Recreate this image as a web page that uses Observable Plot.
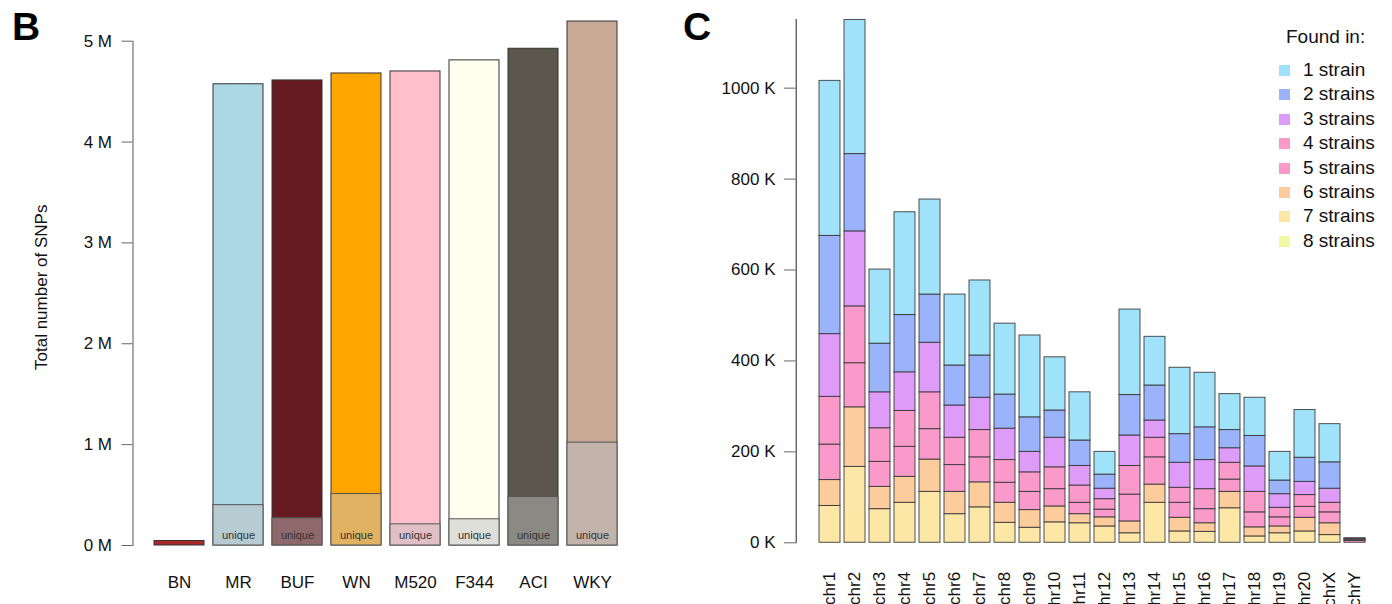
<!DOCTYPE html>
<html>
<head>
<meta charset="utf-8">
<script src="https://cdn.jsdelivr.net/npm/d3@7"></script>
<script src="https://cdn.jsdelivr.net/npm/@observablehq/plot@0.6"></script>
<style>
  html, body { margin: 0; padding: 0; background: #fff; }
  #wrap { position: relative; width: 1392px; height: 604px; overflow: hidden; font-family: "Liberation Sans", Arial, sans-serif; }
  .panel { position: absolute; top: 0; }
  .tag { position: absolute; font-family: "Liberation Sans", Arial, sans-serif; font-weight: bold; font-size: 39px; line-height: 39px; color: #000; }
  .legend { position: absolute; font-family: "Liberation Sans", Arial, sans-serif; font-size: 19px; color: #111; }
  .legend .ttl { position: absolute; left: 1286px; top: 24px; line-height: 25px; white-space: nowrap; }
  .legend .row { position: absolute; left: 1279px; height: 24px; line-height: 24px; white-space: nowrap; }
  .legend .sw { position: absolute; left: 0; top: 7px; width: 11px; height: 11px; }
  .legend .lb { position: absolute; left: 24px; top: 0; }
</style>
</head>
<body>
<div id="wrap">
  <div class="tag" style="left:12px;top:7px;">B</div>
  <div class="tag" style="left:683px;top:7px;">C</div>
  <div class="panel" id="left" style="left:0px;"></div>
  <div class="panel" id="right" style="left:680px;"></div>
  <div class="legend" id="legend"></div>
</div>
<script>
// ---------- Panel B data (millions of SNPs) ----------
const strains = ["BN", "MR", "BUF", "WN", "M520", "F344", "ACI", "WKY"];
const totalSNPs = [0.045, 4.573, 4.611, 4.68, 4.70, 4.81, 4.925, 5.195];
const uniqueSNPs = [0, 0.40, 0.27, 0.51, 0.21, 0.26, 0.48, 1.02];
const strainColors = ["#A8282A", "#ADD8E6", "#661A21", "#FFA500", "#FFC0CB", "#FFFFF0", "#5C574C", "#C8AA96"];
const uniqueColors = ["#A8282A", "#B6CBD2", "#8E686A", "#E0B262", "#E0C0C6", "#DFDFD9", "#8B8983", "#C2B4AA"];
const yTicksB = [0, 1, 2, 3, 4, 5];

// ---------- Panel C data (thousands of SNPs) ----------
const chroms = ["chr1","chr2","chr3","chr4","chr5","chr6","chr7","chr8","chr9","chr10","chr11","chr12","chr13","chr14","chr15","chr16","chr17","chr18","chr19","chr20","chrX","chrY"];
const foundIn = ["1 strain","2 strains","3 strains","4 strains","5 strains","6 strains","7 strains","8 strains"];
const foundColors = ["#A0E2FA","#9BB3FA","#DE9BF8","#F99ACA","#F99ACA","#FDCC9C","#FDE7A6","#F3F8A2"];
const in1 = [341,295,163,226,209,156,165,156,180,117,106,50,188,107,146,120,79,84,63,105,84,1];
const in2 = [216,170,107,126,106,88,93,75,76,60,56,31,89,77,63,72,40,67,30,53,58,1];
const in3 = [138,165,79,85,109,71,71,69,45,65,43,23,67,38,55,64,32,56,30,29,31,1];
const in4 = [105,125,74,79,81,60,60,50,43,48,38,23,63,43,33,44,37,45,21,26,21,3];
const in5 = [78,97,55,66,67,59,55,44,40,38,25,17,59,60,33,31,27,33,20,24,24,4];
const in6 = [57,131,49,57,71,49,55,44,39,35,20,20,26,40,30,19,36,20,15,30,26,0];
const in7 = [81,167,74,88,112,63,78,44,33,45,43,36,21,88,25,24,76,14,21,25,17,0];
const in8 = [0,0,0,0,0,0,0,0,0,0,0,0,0,0,0,0,0,0,0,0,0,0];
const yTicksC = [0, 200, 400, 600, 800, 1000];

const font = '"Liberation Sans", Arial, sans-serif';

// ---------- Panel B ----------
const strainRows = strains.map((s, i) => ({
  strain: s, total: totalSNPs[i], unique: uniqueSNPs[i],
  color: strainColors[i], ucolor: uniqueColors[i]
}));
const uniqueRows = strainRows.filter(d => d.unique > 0);

const left = Plot.plot({
  width: 680, height: 604,
  marginLeft: 132.5, marginRight: 42.5, marginTop: 40.7, marginBottom: 59,
  style: {fontFamily: font, fontSize: "17px", background: "transparent", overflow: "visible", color: "#111"},
  x: {domain: strains, paddingInner: 0.155, paddingOuter: 0.30, axis: null},
  y: {domain: [0, 5], axis: null},
  color: {type: "identity"},
  marks: [
    Plot.frame({anchor: "left", stroke: "#555"}),
    Plot.axisY({ticks: yTicksB, tickFormat: d => `${d} M`, tickSize: 11, tickPadding: 10, stroke: "#666", fill: "#111", fontSize: 17, label: null}),
    Plot.axisX({tickSize: 0, tickPadding: 30, fontSize: 17, fill: "#111", label: null}),
    Plot.barY(strainRows, {x: "strain", y: "total", fill: "color", stroke: "#333", strokeWidth: 1}),
    Plot.barY(uniqueRows, {x: "strain", y: "unique", fill: "ucolor", stroke: "#555", strokeWidth: 1}),
    Plot.text(uniqueRows, {x: "strain", y: 0, text: () => "unique", dy: -10, fontSize: 11, fill: "#333"}),
    Plot.text(["Total number of SNPs"], {frameAnchor: "left", y: 2.56, text: d => d, rotate: -90, textAnchor: "middle", dx: -91, fontSize: 17, fill: "#111"})
  ]
});
document.getElementById("left").appendChild(left);

// ---------- Panel C ----------
const perFound = [in1, in2, in3, in4, in5, in6, in7, in8];
const chromRows = [];
chroms.forEach((c, i) => {
  for (let k = perFound.length - 1; k >= 0; k--) {
    const v = perFound[k][i];
    if (v > 0) chromRows.push({chrom: c, found: foundIn[k], value: v});
  }
});

const right = Plot.plot({
  width: 712, height: 604,
  marginLeft: 115.7, marginRight: 3.5, marginTop: 19, marginBottom: 61.7,
  style: {fontFamily: font, fontSize: "17px", background: "transparent", overflow: "visible", color: "#111"},
  x: {domain: chroms, paddingInner: 0.143, paddingOuter: 0.833, axis: null},
  y: {domain: [0, 1151], axis: null},
  color: {domain: foundIn, range: foundColors},
  marks: [
    Plot.frame({anchor: "left", stroke: "#222"}),
    Plot.axisY({ticks: yTicksC, tickFormat: d => `${d} K`, tickSize: 11.7, tickPadding: 9, stroke: "#666", fill: "#111", fontSize: 17, label: null}),
    Plot.axisX({tickRotate: -90, tickSize: 0, tickPadding: 29, fontSize: 17, fill: "#111", label: null}),
    Plot.barY(chromRows, {x: "chrom", y: "value", fill: "found", stroke: "#333", strokeWidth: 1, strokeOpacity: 0.85})
  ]
});
document.getElementById("right").appendChild(right);

// ---------- Legend ----------
const legend = document.getElementById("legend");
const ttl = document.createElement("div");
ttl.className = "ttl";
ttl.textContent = "Found in:";
legend.appendChild(ttl);
foundIn.forEach((f, i) => {
  const row = document.createElement("div");
  row.className = "row";
  row.style.top = (70 + i * 24.4 - 12) + "px";
  const sw = document.createElement("div");
  sw.className = "sw";
  sw.style.background = foundColors[i];
  const lb = document.createElement("div");
  lb.className = "lb";
  lb.textContent = f;
  row.appendChild(sw);
  row.appendChild(lb);
  legend.appendChild(row);
});
</script>
</body>
</html>
